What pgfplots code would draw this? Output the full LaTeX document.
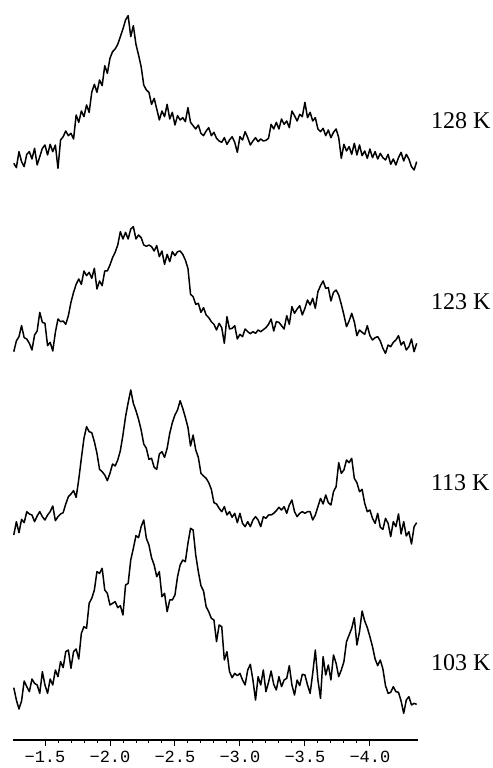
\documentclass[border=0pt]{standalone}
\usepackage{fontspec}
\setmainfont{Liberation Serif}
\newfontfamily\monof{Liberation Mono}
\usepackage{pgfplots}
\usepackage{pgfplotstable}
\pgfplotsset{compat=1.18}
\pgfplotstableread{
x t128 t123 t113 t103
-1.26 25 10 15 102
-1.28 12 42 55 65
-1.30 60 55 22 38
-1.32 30 88 62 62
-1.34 15 52 52 122
-1.36 52 48 85 105
-1.38 60 35 78 90
-1.40 38 15 75 128
-1.42 70 60 55 115
-1.44 20 72 72 110
-1.46 45 128 85 85
-1.48 70 98 70 150
-1.50 80 95 60 110
-1.52 50 28 75 85
-1.54 82 38 85 128
-1.56 60 12 102 110
-1.58 80 68 58 155
-1.60 10 108 70 135
-1.62 95 100 78 180
-1.64 105 102 82 162
-1.66 122 92 108 210
-1.68 108 118 130 215
-1.70 115 158 138 160
-1.72 98 188 148 210
-1.74 170 212 128 218
-1.76 148 228 182 188
-1.78 182 212 245 265
-1.80 165 252 305 285
-1.82 200 238 340 280
-1.84 178 248 325 355
-1.86 238 230 322 370
-1.88 262 260 295 395
-1.90 238 198 260 450
-1.92 275 222 212 445
-1.94 258 208 205 460
-1.96 318 252 195 395
-1.98 295 252 178 385
-2.00 340 270 200 350
-2.02 360 292 228 355
-2.04 368 308 222 360
-2.06 382 330 240 342
-2.08 405 370 268 348
-2.10 428 348 315 320
-2.12 455 368 370 410
-2.14 468 348 412 415
-2.16 405 378 450 485
-2.18 438 385 410 520
-2.20 382 348 388 558
-2.22 350 360 362 552
-2.24 315 352 330 585
-2.26 260 330 288 605
-2.28 245 326 275 550
-2.30 238 330 242 530
-2.32 202 325 245 492
-2.34 220 312 218 470
-2.36 188 328 212 435
-2.38 155 295 258 450
-2.40 182 312 265 375
-2.42 165 272 248 385
-2.44 202 302 275 330
-2.46 158 280 320 365
-2.48 178 310 352 365
-2.50 140 298 375 380
-2.52 168 310 390 435
-2.54 155 312 418 470
-2.56 162 302 395 485
-2.58 150 285 368 480
-2.60 192 260 338 535
-2.62 148 182 282 580
-2.64 138 175 315 575
-2.66 128 152 270 500
-2.68 140 155 248 450
-2.70 115 128 200 408
-2.72 108 142 192 392
-2.74 122 120 185 345
-2.76 132 112 172 330
-2.78 108 100 152 310
-2.80 118 92 112 305
-2.82 100 75 108 240
-2.84 92 95 95 290
-2.86 88 82 85 285
-2.88 102 35 100 185
-2.90 82 115 75 210
-2.92 95 78 85 150
-2.94 105 80 68 132
-2.96 88 88 80 145
-2.98 58 48 52 138
-3.00 105 62 80 145
-3.02 95 55 50 125
-3.04 120 78 40 110
-3.06 102 70 55 155
-3.08 80 64 40 172
-3.10 92 70 60 125
-3.12 102 65 70 65
-3.14 90 75 60 135
-3.16 98 70 40 110
-3.18 92 76 70 155
-3.20 94 82 65 90
-3.22 100 92 75 118
-3.24 142 108 75 152
-3.26 128 72 80 112
-3.28 148 100 88 95
-3.30 128 98 98 135
-3.32 158 88 90 105
-3.34 142 78 100 125
-3.36 152 118 80 130
-3.38 132 92 105 168
-3.40 182 145 120 110
-3.42 168 125 85 80
-3.44 152 138 70 125
-3.46 172 148 80 108
-3.48 165 120 85 142
-3.50 208 140 80 140
-3.52 162 165 85 110
-3.54 178 150 85 85
-3.56 152 170 60 145
-3.58 162 140 75 215
-3.60 128 190 100 125
-3.62 120 208 125 70
-3.64 130 222 108 195
-3.66 108 200 135 140
-3.68 125 202 112 170
-3.70 102 162 105 125
-3.72 118 188 145 200
-3.74 128 195 160 175
-3.76 102 180 232 135
-3.78 40 152 200 155
-3.80 82 120 210 180
-3.82 62 85 240 240
-3.84 75 102 232 260
-3.86 52 125 245 280
-3.88 85 100 185 312
-3.90 50 58 172 230
-3.92 80 75 145 270
-3.94 48 68 152 332
-3.96 62 62 110 302
-3.98 40 88 85 282
-4.00 68 58 90 255
-4.02 42 45 65 225
-4.04 60 52 50 188
-4.06 38 55 80 168
-4.08 55 42 38 185
-4.10 42 20 32 158
-4.12 35 5 65 108
-4.14 52 30 50 85
-4.16 22 25 10 88
-4.18 38 38 55 105
-4.20 20 45 40 90
-4.22 42 58 78 88
-4.24 58 30 18 62
-4.26 32 40 55 25
-4.28 52 15 12 65
-4.30 38 25 25 75
-4.32 15 48 -12 50
-4.34 5 10 40 55
-4.36 30 35 52 52
}\spectra

\begin{document}
\begin{tikzpicture}
\path[use as bounding box] (-13bp,-28bp) rectangle (480bp,740bp);
\begin{axis}[
  at={(0,0)}, anchor=south west,
  scale only axis, width=405bp, height=740bp,
  xmin=-4.37, xmax=-1.254, x dir=reverse,
  ymin=0, ymax=2220,
  axis x line=bottom, axis y line=none,
  axis line style={-},
  x axis line style={-, line width=1.1bp},
  every outer x axis line/.append style={-},
  xtick={-4.0,-3.5,-3.0,-2.5,-2.0,-1.5},
  xticklabels={−4.0,−3.5,−3.0,−2.5,−2.0,−1.5},
  minor x tick num=4,
  tick align=outside,
  major tick length=6bp, minor tick length=3bp,
  tick style={black, line width=0.9bp},
  xticklabel style={font=\monof\fontsize{17bp}{18bp}\selectfont, inner sep=1bp, yshift=-4bp},
  clip=false,
]
\addplot[black, line width=1.5bp, line join=round, mark=none] table[x=x, y expr=\thisrow{t128}+1705] {\spectra};
\addplot[black, line width=1.5bp, line join=round, mark=none] table[x=x, y expr=\thisrow{t123}+1155] {\spectra};
\addplot[black, line width=1.5bp, line join=round, mark=none] table[x=x, y expr=\thisrow{t113}+600] {\spectra};
\addplot[black, line width=1.5bp, line join=round, mark=none] table[x=x, y expr=\thisrow{t103}+55] {\spectra};
\node[anchor=west, inner sep=0pt, font=\fontsize{24bp}{26bp}\selectfont] at (axis cs:-4.469,1858) {128 K};
\node[anchor=west, inner sep=0pt, font=\fontsize{24bp}{26bp}\selectfont] at (axis cs:-4.469,1315) {123 K};
\node[anchor=west, inner sep=0pt, font=\fontsize{24bp}{26bp}\selectfont] at (axis cs:-4.469,771) {113 K};
\node[anchor=west, inner sep=0pt, font=\fontsize{24bp}{26bp}\selectfont] at (axis cs:-4.469,233) {103 K};
\end{axis}
\end{tikzpicture}
\end{document}
